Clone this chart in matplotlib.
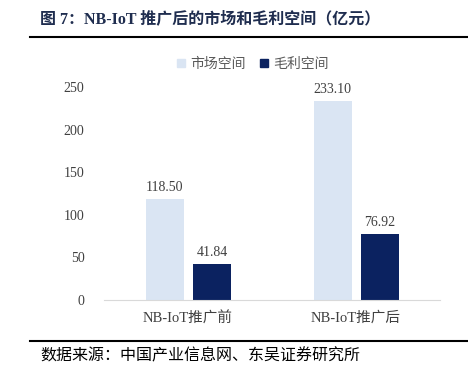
import matplotlib
matplotlib.use("Agg")
import matplotlib.pyplot as plt
import numpy as np
from matplotlib.patches import Rectangle
from matplotlib.lines import Line2D

categories = ["NB-IoT推广前", "NB-IoT推广后"]
market = [118.50, 233.10]
margin = [41.84, 76.92]
series_names = ["市场空间", "毛利空间"]
yticks = [0, 50, 100, 150, 200, 250]

light = "#dae5f3"
dark = "#0b2260"
serif = ["Liberation Serif", "Noto Sans CJK SC"]
cjk = ["Liberation Serif", "Noto Sans CJK SC"]

fig = plt.figure(figsize=(4.68, 3.69), dpi=100)
ax = fig.add_axes([104/468, 1-300/369, (440-104)/468, (300-87)/369])

x = np.arange(len(categories))
w = 0.226
b1 = ax.bar(x - 0.138, market, w, color=light, label=series_names[0])
b2 = ax.bar(x + 0.143, margin, w, color=dark, label=series_names[1])

for bars, vals in ((b1, market), (b2, margin)):
    for r, v in zip(bars, vals):
        ax.text(r.get_x() + r.get_width()/2, v + 6, f"{v:.2f}", ha="center", va="bottom",
                fontsize=10, color="#404040", family=serif)

ax.set_xlim(-0.5, 1.5)
ax.set_ylim(0, 250)
ax.set_yticks(yticks)
ax.set_yticklabels([str(t) for t in yticks], family=serif, fontsize=10, color="#404040")
ax.set_xticks(x)
ax.set_xticklabels(categories, family=cjk, fontsize=10.5, color="#404040")
ax.tick_params(length=0, pad=14)
ax.tick_params(axis="x", pad=8)
for s in ["top", "right", "left"]:
    ax.spines[s].set_visible(False)
ax.spines["bottom"].set_color("#d9d9d9")

leg = fig.legend(handles=[Rectangle((0, 0), 1, 1, color=light), Rectangle((0, 0), 1, 1, color=dark)],
                 labels=series_names, loc="center", bbox_to_anchor=(253/468, 1-64/369), ncol=2,
                 frameon=False, prop={"family": "Noto Sans CJK SC", "size": 10},
                 handlelength=0.55, handleheight=0.55, columnspacing=1.0, handletextpad=0.4)
for t in leg.get_texts():
    t.set_color("#595959")

fig.text(40/468, 1-19/369, "图 7：NB-IoT 推广后的市场和毛利空间（亿元）", fontsize=11.5, fontweight="bold",
         color="#1f2d4f", family=["Liberation Serif", "Noto Sans CJK SC"], va="center", ha="left")
fig.add_artist(Line2D([30/468, 1], [1-37/369, 1-37/369], color="black", lw=1.5, transform=fig.transFigure))
fig.add_artist(Line2D([30/468, 1], [1-341/369, 1-341/369], color="black", lw=1.5, transform=fig.transFigure))
fig.text(40/468, 1-356/369, "数据来源：中国产业信息网、东吴证券研究所", fontsize=11.5, color="black",
         family=["Noto Sans CJK SC"], va="center", ha="left")

fig.savefig("out.png", dpi=100)
